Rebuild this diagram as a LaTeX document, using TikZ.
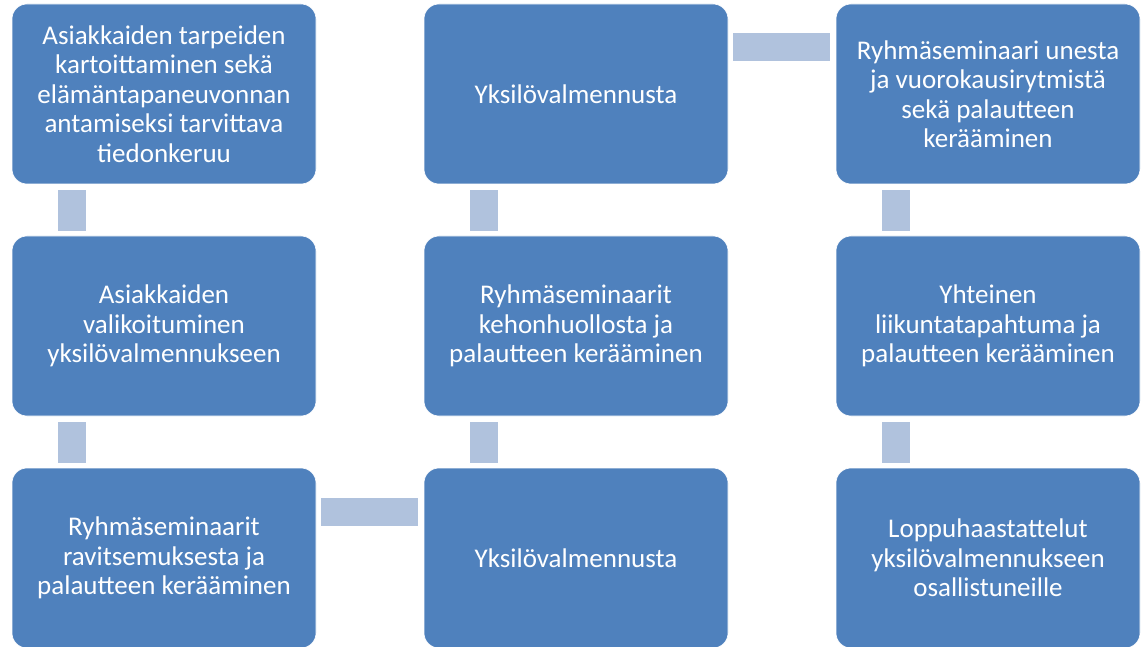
\documentclass[tikz,border=0pt]{standalone}
\usepackage{fontspec}
\setmainfont{Carlito}
\definecolor{boxblue}{HTML}{4F81BD}
\definecolor{linkblue}{HTML}{B0C2DD}
\begin{document}
\begin{tikzpicture}[x=1pt,y=-1pt,
  box/.style={rounded corners=15pt, fill=boxblue, draw=white, line width=0.6pt,
    minimum width=304pt, minimum height=180pt, inner sep=0pt,
    text=white, align=center, font=\fontsize{27}{29.5}\selectfont},
  link/.style={draw=linkblue, line width=28pt, line cap=butt}]
\useasboundingbox (0,0) rectangle (1141,647);

% process steps, three columns of three
\node[box] (a1) at (164,94)  {Asiakkaiden tarpeiden\\kartoittaminen sekä\\elämäntapaneuvonnan\\antamiseksi tarvittava\\tiedonkeruu};
\node[box] (a2) at (164,326) {Asiakkaiden\\valikoituminen\\yksilövalmennukseen};
\node[box] (a3) at (164,558) {Ryhmäseminaarit\\ravitsemuksesta ja\\palautteen kerääminen};
\node[box] (b3) at (576,558) {Yksilövalmennusta};
\node[box] (b2) at (576,326) {Ryhmäseminaarit\\kehonhuollosta ja\\palautteen kerääminen};
\node[box] (b1) at (576,94)  {Yksilövalmennusta};
\node[box] (c1) at (988,94)  {Ryhmäseminaari unesta\\ja vuorokausirytmistä\\sekä palautteen\\kerääminen};
\node[box] (c2) at (988,326) {Yhteinen\\liikuntatapahtuma ja\\palautteen kerääminen};
\node[box] (c3) at (988,558) {Loppuhaastattelut\\yksilövalmennukseen\\osallistuneille};

% vertical links, offset to the left side of each column
\draw[link] ([xshift=-92pt,yshift=-6pt]a1.south) -- ([xshift=-92pt,yshift=5pt]a2.north);
\draw[link] ([xshift=-92pt,yshift=-6pt]a2.south) -- ([xshift=-92pt,yshift=5pt]a3.north);
\draw[link] ([xshift=-92pt,yshift=5pt]b3.north) -- ([xshift=-92pt,yshift=-6pt]b2.south);
\draw[link] ([xshift=-92pt,yshift=5pt]b2.north) -- ([xshift=-92pt,yshift=-6pt]b1.south);
\draw[link] ([xshift=-92pt,yshift=-6pt]c1.south) -- ([xshift=-92pt,yshift=5pt]c2.north);
\draw[link] ([xshift=-92pt,yshift=-6pt]c2.south) -- ([xshift=-92pt,yshift=5pt]c3.north);

% horizontal links near the top of the row
\draw[link] ([xshift=5pt,yshift=-44pt]a3.north east) -- ([xshift=-6pt,yshift=-44pt]b3.north west);
\draw[link] ([xshift=5pt,yshift=-43pt]b1.north east) -- ([xshift=-6pt,yshift=-43pt]c1.north west);
\end{tikzpicture}
\end{document}
